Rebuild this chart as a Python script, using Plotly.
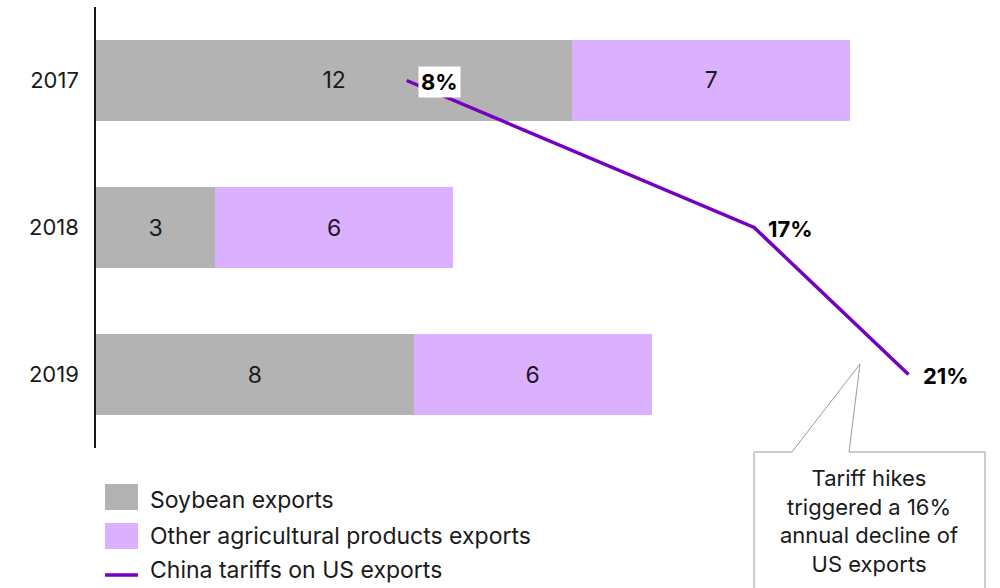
import plotly.graph_objects as go

# Exports to China (USD bn) and average Chinese tariff on US exports (%)
years = ["2017", "2018", "2019"]
soybean_exports = [12, 3, 8]
other_agri_exports = [7, 6, 6]
china_tariffs = [8, 17, 21]
tariff_labels = ["8%", "17%", "21%"]

legend_names = ["Soybean exports", "Other agricultural products exports", "China tariffs on US exports"]
callout_text = "Tariff hikes<br>triggered a 16%<br>annual decline of<br>US exports"

GREY = "#b3b3b3"
LAVENDER = "#dab0ff"
PURPLE = "#7500c0"
TEXT = "#1a1a1a"
FONT = "Inter, Roboto, sans-serif"

W, H = 1000, 588
ML, MR, MT, MB = 96, 33, 7, 140
PW, PH = W - ML - MR, H - MT - MB

# top-to-bottom order on the category axis
cat_order = years[::-1]


def px(x):
    return (x - ML) / PW


def py(y):
    return (H - MB - y) / PH


fig = go.Figure()

fig.add_trace(go.Bar(
    y=years, x=soybean_exports, orientation="h", name=legend_names[0],
    marker=dict(color=GREY, line=dict(width=0)), width=0.55,
    text=[str(v) for v in soybean_exports], textposition="inside",
    insidetextanchor="middle", textfont=dict(size=23, color=TEXT, family=FONT),
))
fig.add_trace(go.Bar(
    y=years, x=other_agri_exports, orientation="h", name=legend_names[1],
    marker=dict(color=LAVENDER, line=dict(width=0)), width=0.55,
    text=[str(v) for v in other_agri_exports], textposition="inside",
    insidetextanchor="middle", textfont=dict(size=23, color=TEXT, family=FONT),
))
fig.add_trace(go.Scatter(
    y=years, x=china_tariffs, mode="lines", name=legend_names[2],
    line=dict(color=PURPLE, width=3.5), xaxis="x2", yaxis="y", cliponaxis=False,
))

# Tariff value labels next to each point (category axes take serial indices)
for i, (yr, v, lab) in enumerate(zip(years, china_tariffs, tariff_labels)):
    fig.add_annotation(
        x=v, y=cat_order.index(yr), xref="x2", yref="y", text=f"<b>{lab}</b>",
        showarrow=False, xanchor="left", yanchor="middle", xshift=11, yshift=-1,
        font=dict(size=22, color="#000000", family=FONT),
        bgcolor="white" if i == 0 else "rgba(0,0,0,0)", borderpad=2,
    )

# Custom legend below the chart
legend_rows = [500, 536, 570]
fig.add_shape(type="rect", xref="paper", yref="paper",
              x0=px(105), x1=px(138), y0=py(484), y1=py(510),
              fillcolor=GREY, line=dict(width=0))
fig.add_shape(type="rect", xref="paper", yref="paper",
              x0=px(105), x1=px(138), y0=py(523), y1=py(549),
              fillcolor=LAVENDER, line=dict(width=0))
fig.add_shape(type="line", xref="paper", yref="paper",
              x0=px(105), x1=px(138), y0=py(575), y1=py(575),
              line=dict(color=PURPLE, width=3.5))
for name, ry in zip(legend_names, legend_rows):
    fig.add_annotation(x=px(148), y=py(ry), xref="paper", yref="paper",
                       text=name, showarrow=False, xanchor="left", yanchor="middle",
                       font=dict(size=23, color=TEXT, family=FONT))

# Callout box with pointer
path = (f"M {px(754)},{py(600)} L {px(754)},{py(452)} L {px(792)},{py(452)} "
        f"L {px(860)},{py(364)} L {px(849)},{py(452)} L {px(985)},{py(452)} "
        f"L {px(985)},{py(600)} Z")
fig.add_shape(type="path", xref="paper", yref="paper", path=path,
              fillcolor="white", line=dict(color="#9a9a9a", width=1))
fig.add_annotation(x=px(869), y=py(521), xref="paper", yref="paper",
                   text=callout_text, showarrow=False, xanchor="center", yanchor="middle",
                   align="center", font=dict(size=22, color=TEXT, family=FONT))

fig.update_layout(
    width=W, height=H, barmode="stack", showlegend=False,
    margin=dict(l=ML, r=MR, t=MT, b=MB),
    plot_bgcolor="white", paper_bgcolor="white",
    font=dict(family=FONT, color=TEXT),
    xaxis=dict(range=[0, PW / 39.7], visible=False),
    xaxis2=dict(range=[-0.05, -0.05 + PW / 38.6], overlaying="x", visible=False, anchor="y"),
    yaxis=dict(
        type="category", categoryorder="array", categoryarray=cat_order,
        range=[-0.5, 2.5], autorange=False,
        showline=True, linecolor="#1a1a1a", linewidth=1.5,
        ticks="", showgrid=False, zeroline=False,
        tickfont=dict(size=22, color=TEXT, family=FONT), ticklabelstandoff=11,
    ),
)

fig.write_html("out.html")
